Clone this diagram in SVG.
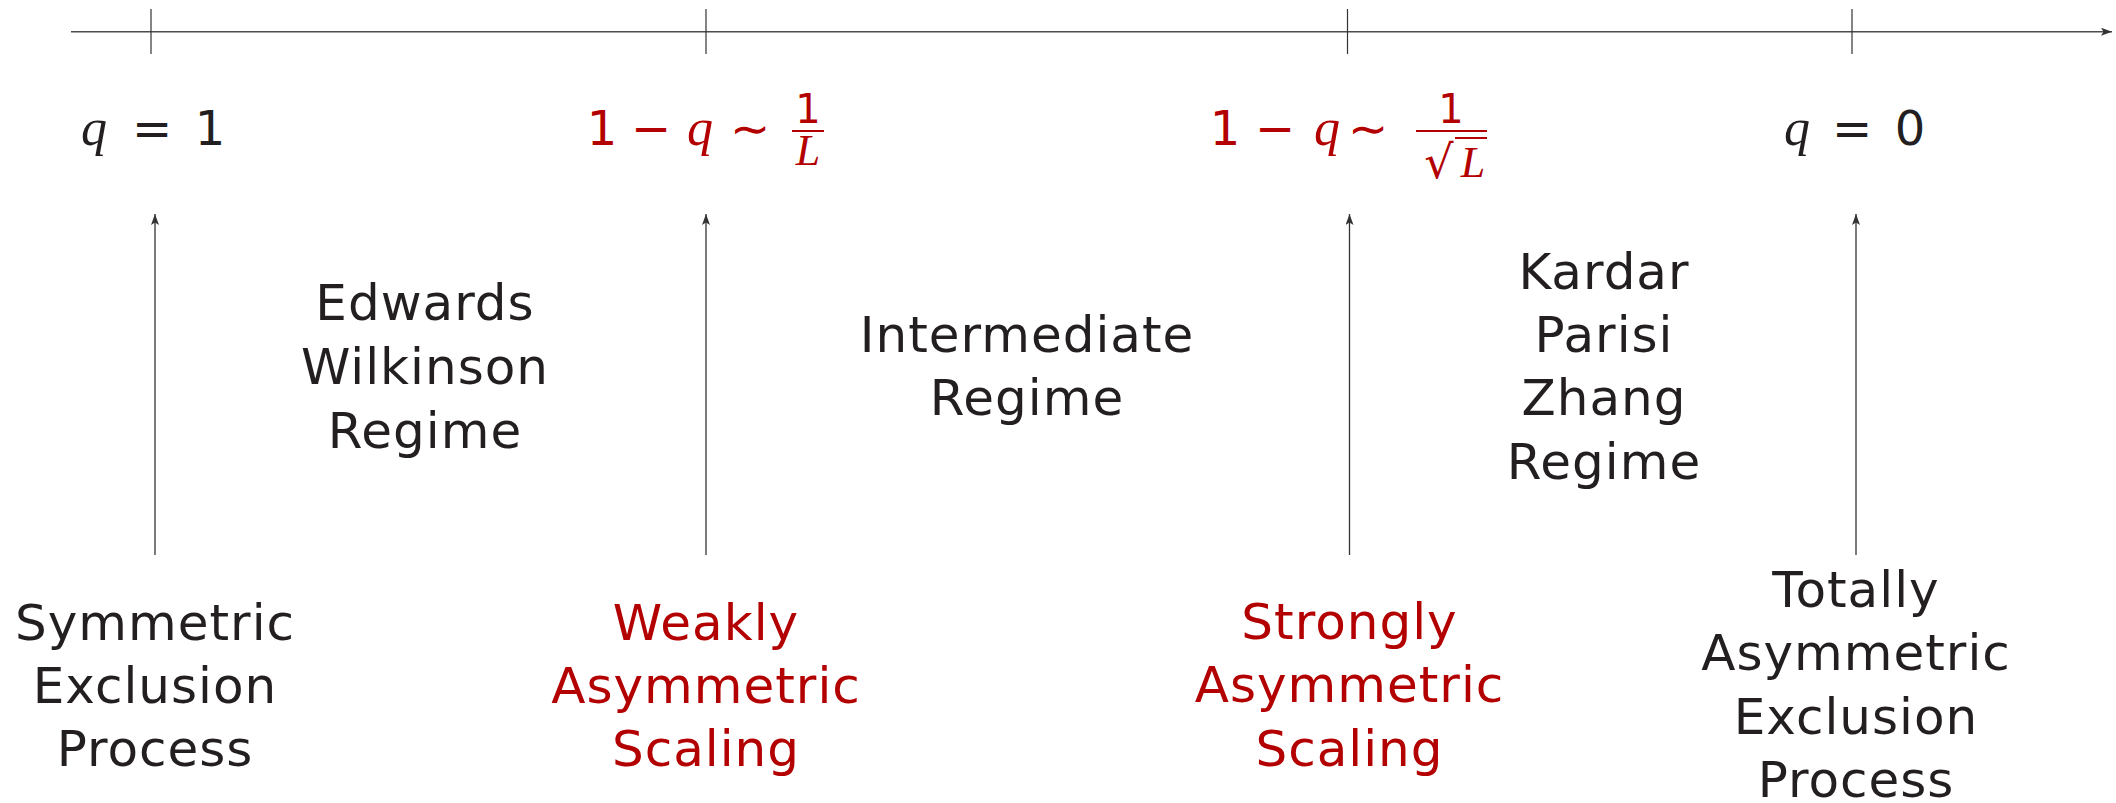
<svg xmlns="http://www.w3.org/2000/svg" width="2116" height="803" viewBox="0 0 2116 803">
<style>
.lbl{font-family:"DejaVu Sans","Liberation Sans",sans-serif;font-size:50px;letter-spacing:1px;text-anchor:middle;fill:#231f20}
.red{fill:#b30000}
.m{font-family:"DejaVu Sans",sans-serif;font-size:48px;text-anchor:middle}
.mi{font-family:"Liberation Serif",serif;font-style:italic;font-size:52px;text-anchor:middle}
.ax{stroke:#4d4d4d;stroke-width:1.6;fill:none}
.tk{stroke:#333;stroke-width:1.2;fill:none}
.ar{stroke:#333;stroke-width:1.3;fill:none}
</style>
<defs>
<marker id="ah" markerWidth="12" markerHeight="8" refX="11" refY="4" orient="auto" markerUnits="userSpaceOnUse">
<path d="M0,0 L11,4 L0,8 L2.5,4 Z" fill="#333"/>
</marker>
</defs>
<rect width="2116" height="803" fill="#fff"/>
<g id="connectors">
<line class="ax" x1="71" y1="31.7" x2="2112" y2="31.7" marker-end="url(#ah)"/>
<line class="tk" x1="151" y1="9" x2="151" y2="54"/>
<line class="tk" x1="706" y1="9" x2="706" y2="54"/>
<line class="tk" x1="1347.5" y1="9" x2="1347.5" y2="54"/>
<line class="tk" x1="1852" y1="9" x2="1852" y2="54"/>
<line class="ar" x1="155" y1="555" x2="155" y2="214" marker-end="url(#ah)"/>
<line class="ar" x1="706" y1="555" x2="706" y2="214" marker-end="url(#ah)"/>
<line class="ar" x1="1349.5" y1="555" x2="1349.5" y2="214" marker-end="url(#ah)"/>
<line class="ar" x1="1856" y1="555" x2="1856" y2="214" marker-end="url(#ah)"/>
</g>
<g id="math-q1" fill="#231f20">
<text class="mi" x="94" y="145">q</text>
<text class="m" x="152" y="145">=</text>
<text class="m" x="210" y="145">1</text>
</g>
<g id="math-weak" fill="#b30000">
<text class="m" x="602" y="145">1</text>
<text class="m" x="651" y="145">−</text>
<text class="mi" x="700" y="145">q</text>
<text class="m" x="750" y="145">∼</text>
<text class="m" x="808" y="123" style="font-size:40px">1</text>
<line x1="792" y1="131" x2="824" y2="131" stroke="#b30000" stroke-width="2"/>
<text class="mi" x="808" y="165" style="font-size:44px">L</text>
</g>
<g id="math-strong" fill="#b30000">
<text class="m" x="1225" y="145">1</text>
<text class="m" x="1275" y="145">−</text>
<text class="mi" x="1327" y="145">q</text>
<text class="m" x="1368" y="145">∼</text>
<text class="m" x="1451" y="123" style="font-size:40px">1</text>
<line x1="1416" y1="131" x2="1487" y2="131" stroke="#b30000" stroke-width="2"/>
<text x="1439" y="178" style="font-family:'DejaVu Sans',sans-serif;font-size:46px;text-anchor:middle">√</text>
<line x1="1455" y1="138" x2="1487" y2="138" stroke="#b30000" stroke-width="2"/>
<text class="mi" x="1473" y="177" style="font-size:44px">L</text>
</g>
<g id="math-q0" fill="#231f20">
<text class="mi" x="1797" y="145">q</text>
<text class="m" x="1852" y="145">=</text>
<text class="m" x="1910" y="145">0</text>
</g>
<g id="sep">
<text class="lbl" x="155" y="640">Symmetric</text>
<text class="lbl" x="155" y="703">Exclusion</text>
<text class="lbl" x="155" y="766">Process</text>
</g>
<g id="ew">
<text class="lbl" x="425" y="320">Edwards</text>
<text class="lbl" x="425" y="384">Wilkinson</text>
<text class="lbl" x="425" y="448">Regime</text>
</g>
<g id="weak">
<text class="lbl red" x="706" y="640">Weakly</text>
<text class="lbl red" x="706" y="703">Asymmetric</text>
<text class="lbl red" x="706" y="766">Scaling</text>
</g>
<g id="inter">
<text class="lbl" x="1027" y="352">Intermediate</text>
<text class="lbl" x="1027" y="415">Regime</text>
</g>
<g id="strong">
<text class="lbl red" x="1349.5" y="639">Strongly</text>
<text class="lbl red" x="1349.5" y="702">Asymmetric</text>
<text class="lbl red" x="1349.5" y="766">Scaling</text>
</g>
<g id="kpz">
<text class="lbl" x="1604" y="289">Kardar</text>
<text class="lbl" x="1604" y="352">Parisi</text>
<text class="lbl" x="1604" y="415">Zhang</text>
<text class="lbl" x="1604" y="479">Regime</text>
</g>
<g id="tasep">
<text class="lbl" x="1856" y="607">Totally</text>
<text class="lbl" x="1856" y="670">Asymmetric</text>
<text class="lbl" x="1856" y="734">Exclusion</text>
<text class="lbl" x="1856" y="797">Process</text>
</g>
</svg>
